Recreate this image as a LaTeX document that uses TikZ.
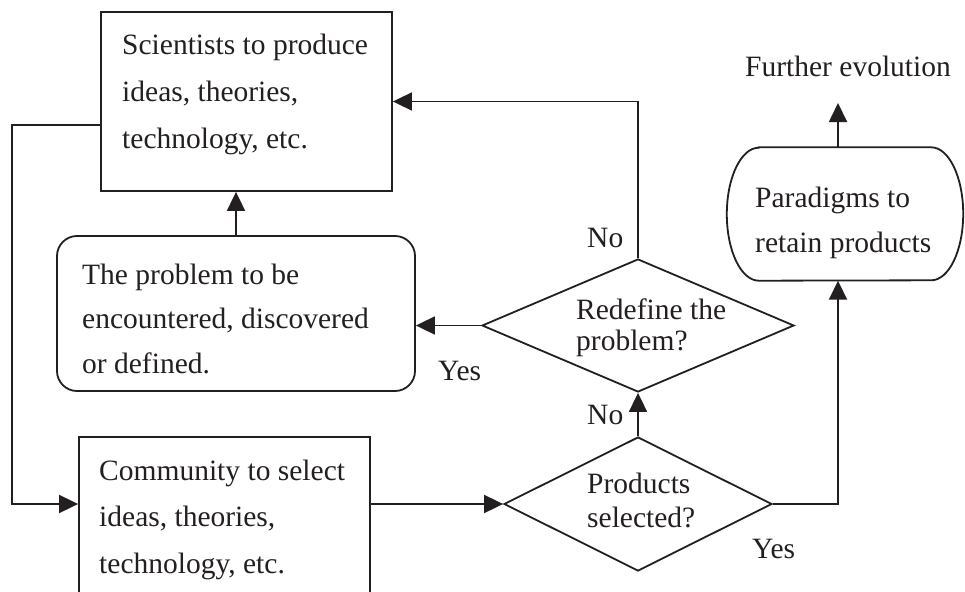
\documentclass[tikz,border=0pt]{standalone}
\usepackage{fontspec}
\setmainfont{Liberation Serif}
\usetikzlibrary{arrows.meta,shapes.geometric}
\definecolor{ink}{HTML}{231F20}
\tikzset{
  ln/.style={draw=ink, line width=1.8pt},
  box/.style={ln, rectangle, inner sep=0pt},
  dia/.style={ln, diamond, inner sep=0pt},
  arr/.style={ln, -{Triangle[length=19pt,width=18pt]}},
  txt/.style={anchor=base west, inner sep=0pt, text=ink, font=\fontsize{29.5}{35}\selectfont},
}
\begin{document}
\begin{tikzpicture}[x=1pt,y=-1pt]
\useasboundingbox (0,0) rectangle (965,591);
\clip (0,0) rectangle (965,591);

% shapes
\node[box, minimum width=291pt, minimum height=179pt] (sci) at (246.5,101.5) {};
\node[box, rounded corners=20pt, minimum width=358pt, minimum height=155pt] (prob) at (236,313.5) {};
\node[box, minimum width=291pt, minimum height=183pt] (comm) at (224.5,528.5) {};
\node[dia, minimum width=312pt, minimum height=133pt] (redef) at (638,325.5) {};
\node[dia, minimum width=268pt, minimum height=134pt] (prod) at (638,504) {};
\node[inner sep=0pt, minimum width=236pt, minimum height=133pt] (para) at (845,214) {};
\draw[ln] ([xshift=32pt]para.north west) -- ([xshift=-32pt]para.north east)
  arc[start angle=90, end angle=-90, x radius=32pt, y radius=66.5pt]
  -- ([xshift=32pt]para.south west)
  arc[start angle=270, end angle=90, x radius=32pt, y radius=66.5pt] -- cycle;

% texts
\node[txt] (s1) at (122,55) {Scientists to produce};
\node[txt] (s2) at (122,102) {ideas, theories,};
\node[txt] (s3) at (122,148) {technology, etc.};
\node[txt] (p1) at (82,284) {The problem to be};
\node[txt] (p2) at (82,328) {encountered, discovered};
\node[txt] (p3) at (82,373) {or defined.};
\node[txt] (c1) at (99,480) {Community to select};
\node[txt] (c2) at (99,526) {ideas, theories,};
\node[txt] (c3) at (99,573) {technology, etc.};
\node[txt] (r1) at (576,319) {Redefine the};
\node[txt] (r2) at (576,350) {problem?};
\node[txt] (d1) at (587,493) {Products};
\node[txt] (d2) at (587,527) {selected?};
\node[txt] (g1) at (755,207) {Paradigms to};
\node[txt] (g2) at (755,252) {retain products};
\node[txt] (fe) at (745,77) {Further evolution};
\node[txt] (no1) at (587,247) {No};
\node[txt] (yes1) at (438,380) {Yes};
\node[txt] (no2) at (587,424) {No};
\node[txt] (yes2) at (752,558) {Yes};

% connectors
\coordinate (fetip) at (838,103);
\coordinate (lp) at (12,125);
\draw[arr] (para.north -| fetip) -- (fetip);
\draw[arr] (redef.north) |- (sci.east);
\draw[arr] (redef.west) -- (redef.west -| prob.east);
\draw[arr] (prob.north) -- (prob.north |- sci.south);
\draw[arr] (sci.west |- lp) -- (lp) |- (comm.west |- prod.west);
\draw[arr] (comm.east |- prod.west) -- (prod.west);
\draw[arr] (prod.north) -- (redef.south);
\draw[arr] (prod.east) -| (para.south -| fetip);
\end{tikzpicture}
\end{document}
